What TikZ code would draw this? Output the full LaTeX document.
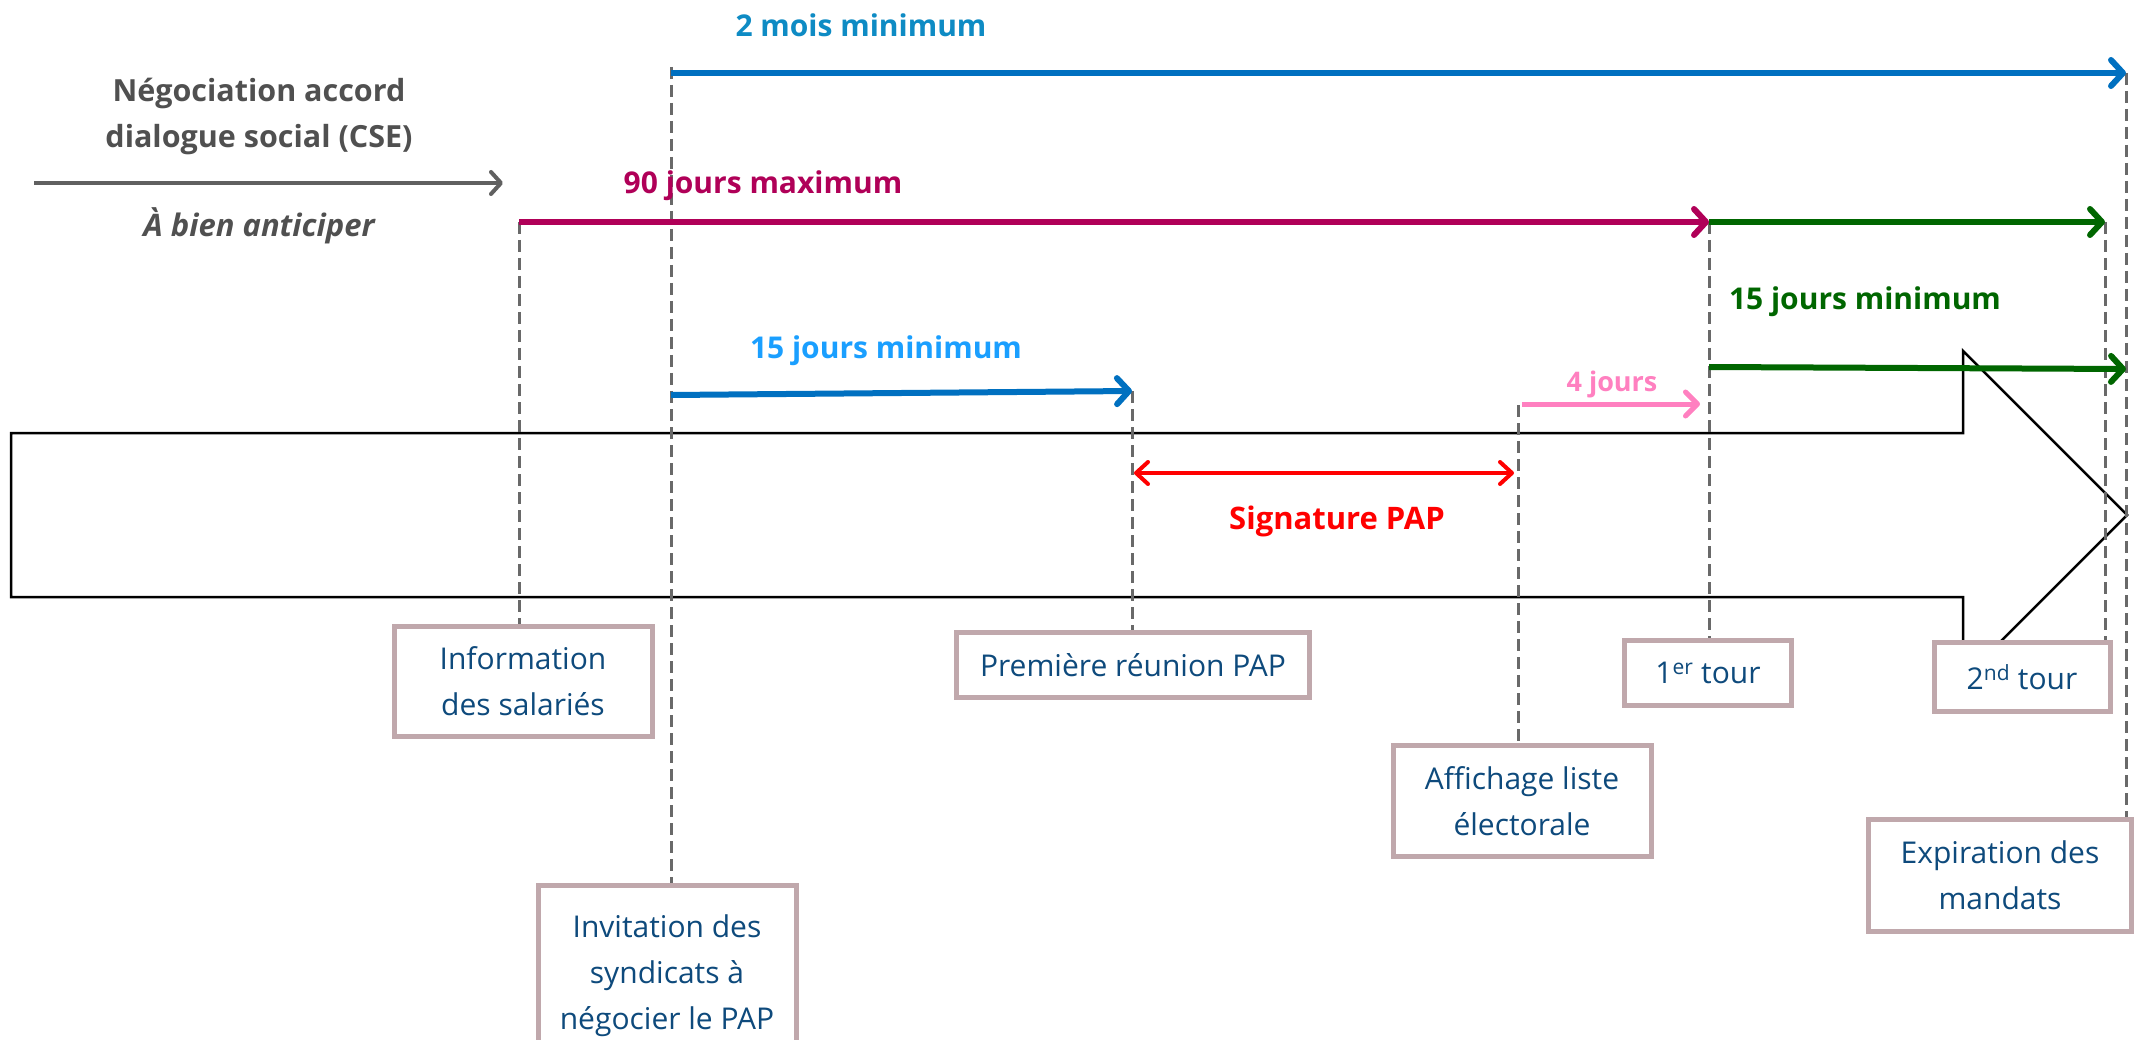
\documentclass[tikz,border=0pt]{standalone}
\usepackage{fontspec}
\setmainfont{Open Sans}
\usetikzlibrary{arrows.meta}
\definecolor{blueline}{RGB}{0,112,192}
\definecolor{bluelbl}{RGB}{14,139,196}
\definecolor{lightblue}{RGB}{26,159,255}
\definecolor{crimson}{RGB}{176,0,88}
\definecolor{dgreen}{RGB}{0,102,0}
\definecolor{pinkc}{RGB}{255,128,192}
\definecolor{boxc}{RGB}{192,168,172}
\definecolor{txtc}{RGB}{14,74,124}
\definecolor{dashc}{RGB}{105,105,105}
\definecolor{grayt}{RGB}{80,80,80}
\definecolor{graya}{RGB}{96,96,96}
\begin{document}
\begin{tikzpicture}[x=1pt,y=-1pt,
  evbox/.style={draw=boxc, line width=5pt, fill=white, text=txtc, align=center, inner sep=0pt, font=\fontsize{30}{46}\selectfont},
  lbl/.style={font=\bfseries\fontsize{30}{36}\selectfont, inner sep=0pt},
  guide/.style={draw=dashc, line width=3pt, dash pattern=on 12pt off 6pt},
  durarrow/.style={line width=6pt, -{Straight Barb[length=12pt,width=26pt,round]}},
]
\clip (0,0) rectangle (2136,1040);
\fill[white] (0,0) rectangle (2136,1040);

% big outline arrow
\draw[line width=2.5pt, line join=miter] (1963,351) -- (1963,433) -- (11,433) -- (11,597) -- (1963,597) -- (1963,679) -- (2127,515) -- cycle;

% time points
\coordinate (pInfo) at (519,222);
\coordinate (pInv) at (671,67);
\coordinate (pInvA) at (671,73);
\coordinate (pInvB) at (671,395);
\coordinate (pPrem) at (1132,391);
\coordinate (pAff) at (1518,405);
\coordinate (pAffA) at (1522,404);
\coordinate (pT1) at (1709,222);
\coordinate (pT1A) at (1700,404);
\coordinate (pT1B) at (1709,367);
\coordinate (pT2) at (2105,222);
\coordinate (pExp) at (2126,73);
\coordinate (pExpB) at (2126,369);
\coordinate (sigL) at (1134,473);
\coordinate (sigR) at (1514,473);
\coordinate (gS) at (34,183);
\coordinate (gE) at (503,183);

% boxes
\node[evbox, minimum width=258pt, minimum height=110pt] (info) at (523,681) {Information\\des salariés};
\node[evbox, minimum width=258pt, minimum height=180pt, anchor=north] (invit) at (667,883) {Invitation des\\syndicats à\\négocier le PAP};
\node[evbox, minimum width=353pt, minimum height=65pt] (prem) at (1133,665) {Première réunion PAP};
\node[evbox, minimum width=258pt, minimum height=111pt] (affich) at (1522,801) {Affichage liste\\électorale};
\node[evbox, minimum width=167pt, minimum height=65pt] (tour1) at (1708,673) {1\textsuperscript{er} tour};
\node[evbox, minimum width=176pt, minimum height=69pt] (tour2) at (2022,677) {2\textsuperscript{nd} tour};
\node[evbox, minimum width=263pt, minimum height=112pt] (expir) at (2000,875) {Expiration des\\mandats};

% guides
\draw[guide] (pInfo) -- (pInfo |- info.north);
\draw[guide] (pInv) -- (pInv |- invit.north);
\draw[guide] (pPrem) -- (pPrem |- prem.north);
\draw[guide] (pAff) -- (pAff |- affich.north);
\draw[guide] (pT1) -- (pT1 |- tour1.north);
\draw[guide] (pT2) -- (pT2 |- tour2.north);
\draw[guide] (pExp) -- (pExp |- expir.north);

% duration arrows
\draw[durarrow, blueline] (pInvA) -- (pExp);
\draw[durarrow, crimson] (pInfo) -- (pT1);
\draw[durarrow, dgreen] (pT1) -- (pT2);
\draw[durarrow, dgreen] (pT1B) -- (pExpB);
\draw[durarrow, blueline] (pInvB) -- (pPrem);
\draw[line width=5pt, pinkc, -{Straight Barb[length=12pt,width=24pt,round]}] (pAffA) -- (pT1A);
\draw[line width=4pt, red, {Straight Barb[length=12pt,width=22pt,round]}-{Straight Barb[length=12pt,width=22pt,round]}] (sigL) -- (sigR);
\draw[line width=4pt, graya, -{Straight Barb[length=10pt,width=22pt,round]}] (gS) -- (gE);

% labels
\node[lbl, text=bluelbl] (l2m) at (861,25) {2 mois minimum};
\node[lbl, text=crimson] (l90) at (763,186) {90 jours maximum};
\node[lbl, text=lightblue] (l15b) at (886,351) {15 jours minimum};
\node[lbl, text=dgreen] (l15g) at (1865,302) {15 jours minimum};
\node[lbl, text=pinkc, font=\bfseries\fontsize{27}{32}\selectfont] (l4) at (1612,384) {4 jours};
\node[lbl, text=red, font=\bfseries\fontsize{31}{36}\selectfont] (lsig) at (1337,521) {Signature PAP};
\node[lbl, text=grayt, align=center, font=\bfseries\fontsize{30.5}{46}\selectfont] (lneg) at (259,116) {Négociation accord\\dialogue social (CSE)};
\node[lbl, text=grayt, font=\bfseries\itshape\fontsize{31}{36}\selectfont] (lant) at (259,226) {À bien anticiper};
\end{tikzpicture}
\end{document}
